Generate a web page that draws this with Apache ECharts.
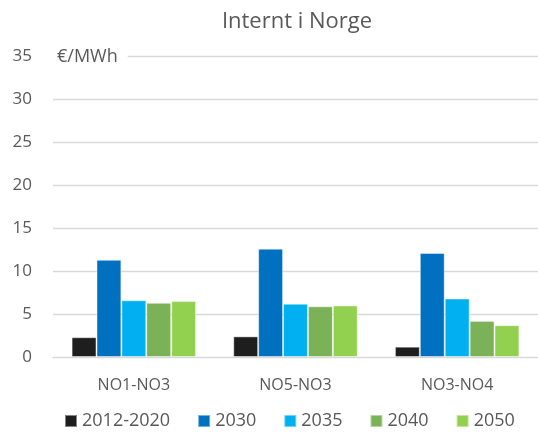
<!DOCTYPE html>
<html>
<head>
<meta charset="utf-8">
<script src="https://cdn.jsdelivr.net/npm/echarts@6/dist/echarts.min.js"></script>
<style>
  html, body { margin: 0; padding: 0; background: #fff; }
  #chart { width: 538px; height: 432px; }
</style>
</head>
<body>
<div id="chart"></div>
<script>
// Price differences between bidding zones (€/MWh)
const categories = ['NO1-NO3', 'NO5-NO3', 'NO3-NO4'];
const seriesNames = ['2012-2020', '2030', '2035', '2040', '2050'];
const v2012_2020 = [2.3, 2.4, 1.2];
const v2030 = [11.3, 12.6, 12.1];
const v2035 = [6.6, 6.2, 6.8];
const v2040 = [6.3, 5.9, 4.2];
const v2050 = [6.5, 6.0, 3.7];
const colors = ['#1E1E1E', '#0070C0', '#00B0F0', '#7CB257', '#92D050'];
const unitLabel = '€/MWh';

const values = [v2012_2020, v2030, v2035, v2040, v2050];
const font = '"Open Sans", "Noto Sans", sans-serif';
const textColor = '#595959';

const chart = echarts.init(document.getElementById('chart'), null, { renderer: 'canvas' });

chart.setOption({
  animation: false,
  color: colors,
  textStyle: { fontFamily: font },
  title: {
    text: 'Internt i Norge',
    left: 292,
    textAlign: 'center',
    top: 6,
    textStyle: { fontFamily: font, fontSize: 22, fontWeight: 'normal', color: textColor }
  },
  legend: {
    data: seriesNames,
    top: 407,
    left: 59,
    itemWidth: 12,
    itemHeight: 12,
    itemGap: 27,
    icon: 'rect',
    textStyle: { fontFamily: font, fontSize: 18, color: textColor, padding: [0, 0, 0, 0] }
  },
  grid: { left: 53, top: 56, width: 487, height: 301, containLabel: false },
  xAxis: {
    type: 'category',
    data: categories,
    axisTick: { show: false },
    axisLine: { show: true, lineStyle: { color: '#D9D9D9', width: 1 } },
    axisLabel: { fontFamily: font, fontSize: 16, color: textColor, margin: 20 }
  },
  yAxis: {
    type: 'value',
    min: 0,
    max: 35,
    interval: 5,
    axisLine: { show: false },
    axisTick: { show: false },
    splitLine: { lineStyle: { color: '#D9D9D9', width: 1.3 } },
    axisLabel: { fontFamily: font, fontSize: 17, color: textColor, margin: 21 }
  },
  graphic: [{
    type: 'text',
    x: 53,
    y: 57,
    style: {
      text: unitLabel,
      fontFamily: font,
      fontSize: 18,
      fill: textColor,
      verticalAlign: 'middle',
      backgroundColor: '#fff',
      padding: [1, 10, 1, 4]
    },
    z: 100
  }],
  series: seriesNames.map((name, i) => ({
    name: name,
    type: 'bar',
    data: values[i],
    barGap: '0%',
    barCategoryGap: '23%',
    itemStyle: { borderColor: 'rgba(255,255,255,0.45)', borderWidth: 1 }
  }))
});
</script>
</body>
</html>
